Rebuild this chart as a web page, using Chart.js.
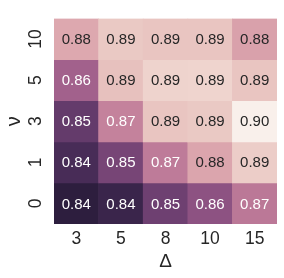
<!DOCTYPE html>
<html>
<head>
<meta charset="utf-8">
<script src="https://cdn.jsdelivr.net/npm/chart.js@4/dist/chart.umd.min.js"></script>
<style>
  html, body { margin: 0; padding: 0; background: #fff; }
</style>
</head>
<body>
<canvas id="myChart" width="284" height="278"></canvas>
<script>
// columns (Δ) and rows (ν, top to bottom)
var colLabels = ['3', '5', '8', '10', '15'];
var rowLabels = ['10', '5', '3', '1', '0'];

// cell values, one array per row (top to bottom)
var row10 = [0.884, 0.892, 0.891, 0.891, 0.882];
var row5  = [0.864, 0.890, 0.8945, 0.8948, 0.891];
var row3  = [0.850, 0.874, 0.891, 0.892, 0.902];
var row1  = [0.844, 0.854, 0.872, 0.883, 0.893];
var row0  = [0.838, 0.841, 0.852, 0.859, 0.871];
var values = [row10, row5, row3, row1, row0];

var FONT = '"Liberation Sans", Arial, sans-serif';
var TEXT = '#262626';

// seaborn cubehelix_palette(light=.95, reverse=True)
function cubehelix(x) {
    var phi = 2 * Math.PI * (0 / 3 + 0.4 * x);
    var a = 0.8 * x * (1 - x) / 2;
    var c = Math.cos(phi), s = Math.sin(phi);
    var r = x + a * (-0.14861 * c + 1.78277 * s);
    var g = x + a * (-0.29227 * c - 0.90649 * s);
    var b = x + a * (1.97294 * c);
    return [r, g, b].map(function (v) { return Math.min(1, Math.max(0, v)); });
}

var all = [].concat.apply([], values);
var vmin = Math.min.apply(null, all);
var vmax = Math.max.apply(null, all);

function cellRgb(v) {
    var t = (v - vmin) / (vmax - vmin);
    return cubehelix(0.15 + t * (0.95 - 0.15));
}
function toCss(rgb) {
    return 'rgb(' + rgb.map(function (v) { return Math.round(v * 255); }).join(',') + ')';
}
function luminance(rgb) {
    var l = rgb.map(function (v) {
        return v <= 0.03928 ? v / 12.92 : Math.pow((v + 0.055) / 1.055, 2.4);
    });
    return 0.2126 * l[0] + 0.7152 * l[1] + 0.0722 * l[2];
}

var annotate = {
    id: 'annotate',
    afterDatasetsDraw: function (chart) {
        var ctx = chart.ctx;
        ctx.save();
        ctx.font = '15px ' + FONT;
        ctx.textAlign = 'center';
        ctx.textBaseline = 'middle';
        chart.data.datasets.forEach(function (ds, i) {
            chart.getDatasetMeta(i).data.forEach(function (bar, j) {
                var p = bar.getProps(['x', 'y', 'base'], true);
                var v = values[i][j];
                ctx.fillStyle = luminance(cellRgb(v)) > 0.408 ? TEXT : '#ffffff';
                ctx.fillText(v.toFixed(2), p.x, (p.y + p.base) / 2 + 1);
            });
        });
        ctx.restore();
    }
};

var datasets = rowLabels.map(function (lab, i) {
    return {
        label: lab,
        data: colLabels.map(function () { return [i, i + 1]; }),
        backgroundColor: values[i].map(function (v) { return toCss(cellRgb(v)); }),
        borderWidth: 0,
        barPercentage: 1,
        categoryPercentage: 1,
        grouped: false
    };
});

var ctx = document.getElementById('myChart').getContext('2d');
var myChart = new Chart(ctx, {
    type: 'bar',
    data: { labels: colLabels, datasets: datasets },
    plugins: [annotate],
    options: {
        responsive: false,
        animation: false,
        devicePixelRatio: 1,
        layout: { padding: { left: 0, right: 7, top: 7, bottom: 0 } },
        plugins: { legend: { display: false }, tooltip: { enabled: false } },
        scales: {
            x: {
                grid: { display: false, drawTicks: false },
                border: { display: false },
                ticks: { color: TEXT, font: { family: FONT, size: 17.5 }, padding: 5, maxRotation: 0 },
                title: { display: true, text: 'Δ', color: TEXT, font: { family: FONT, size: 19 }, padding: { top: 0, bottom: 5 } },
                afterFit: function (scale) { scale.height = 54; }
            },
            y: {
                min: 0,
                max: 5,
                reverse: true,
                grid: { display: false, drawTicks: false },
                border: { display: false },
                afterBuildTicks: function (scale) {
                    scale.ticks = rowLabels.map(function (l, i) { return { value: i + 0.5 }; });
                },
                ticks: {
                    color: TEXT,
                    font: { family: FONT, size: 17.5 },
                    padding: 8,
                    minRotation: 90,
                    maxRotation: 90,
                    crossAlign: 'center',
                    callback: function (value, index) { return rowLabels[index]; }
                },
                title: { display: true, text: 'ν', color: TEXT, font: { family: FONT, size: 20 }, padding: { top: 2, bottom: 0 } },
                afterFit: function (scale) { scale.width = 54; }
            }
        }
    }
});
</script>
</body>
</html>
